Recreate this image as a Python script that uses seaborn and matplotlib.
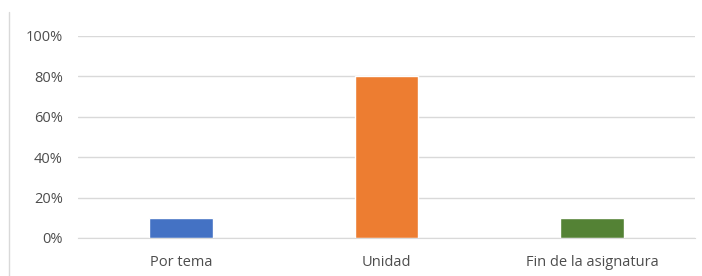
import matplotlib
matplotlib.use("Agg")
import matplotlib.pyplot as plt
import seaborn as sns
import pandas as pd
from matplotlib.lines import Line2D
from matplotlib.ticker import PercentFormatter

categories = ["Por tema", "Unidad", "Fin de la asignatura"]
values = [0.10, 0.80, 0.10]
colors = ["#4472C4", "#ED7D31", "#548235"]

df = pd.DataFrame({"cat": categories, "val": values})

sns.set_style("white")
plt.rcParams["font.family"] = ["Open Sans", "DejaVu Sans"]

fig = plt.figure(figsize=(7.02, 2.76), dpi=100)
ax = fig.add_axes([0.111, 0.138, 0.879, 0.732])

sns.barplot(data=df, x="cat", y="val", hue="cat", palette=colors,
            width=0.31, legend=False, ax=ax, saturation=1)

ax.set_ylim(0, 1)
ax.set_xlim(-0.5, 2.5)
ax.set_yticks([0, 0.2, 0.4, 0.6, 0.8, 1.0])
ax.yaxis.set_major_formatter(PercentFormatter(1.0, decimals=0))
ax.grid(axis="y", color="#d9d9d9", linewidth=1)
ax.set_axisbelow(True)
for s in ["top", "right", "left"]:
    ax.spines[s].set_visible(False)
ax.spines["bottom"].set_color("#d9d9d9")
ax.tick_params(axis="both", length=0, labelsize=10.5, colors="#4d4d4d")
ax.tick_params(axis="y", pad=11)
ax.tick_params(axis="x", pad=12)
ax.set_xlabel("")
ax.set_ylabel("")

fig.add_artist(Line2D([9 / 702, 9 / 702], [0, 1 - 12 / 276],
                      transform=fig.transFigure, color="#d9d9d9", linewidth=1))

fig.savefig("out.png", dpi=100)
